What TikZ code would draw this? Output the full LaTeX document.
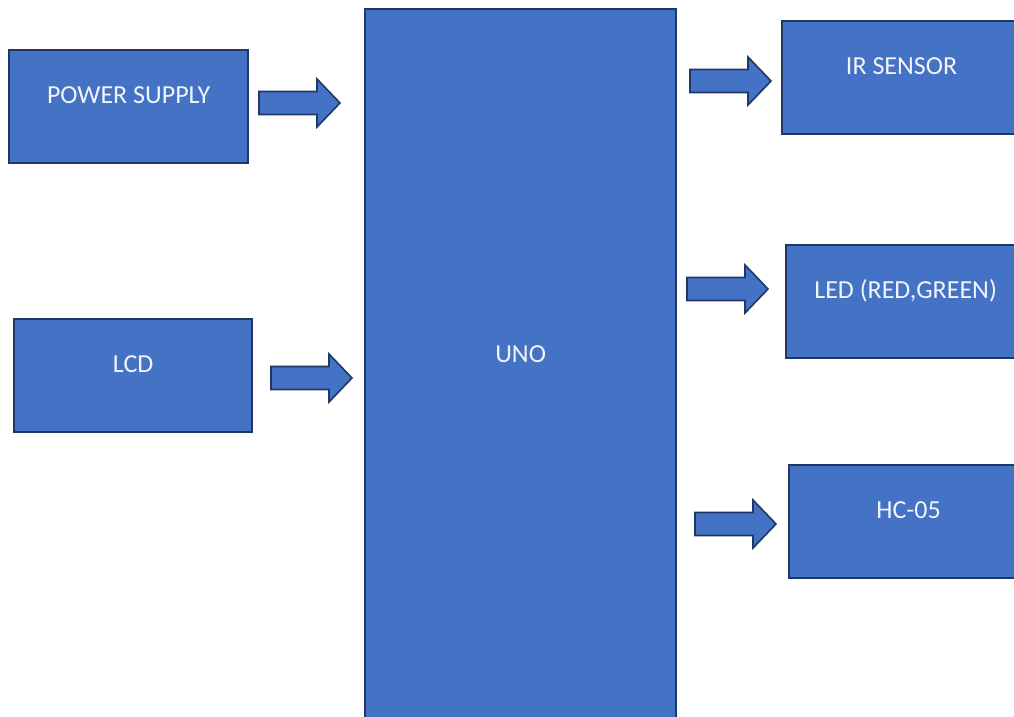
\documentclass[tikz,border=0pt]{standalone}
\usepackage{fontspec}
\setmainfont{Carlito}
\usetikzlibrary{positioning}

\definecolor{boxfill}{HTML}{4472C4}
\definecolor{boxedge}{HTML}{1F3864}
\definecolor{boxtxt}{HTML}{F2F4FA}

\tikzset{
  block/.style={draw=boxedge, fill=boxfill, line width=2.2pt, anchor=north west,
    minimum width=239pt, minimum height=113pt, inner sep=0pt},
  blocktext/.style={text=boxtxt, font=\fontsize{26}{30}\selectfont, yshift=11pt},
  fatarrow/.pic={
    \draw[draw=boxedge, fill=boxfill, line width=1.6pt, line join=miter]
      (0,-11.5) -- (58,-11.5) -- (58,-24) -- (81,0) -- (58,24) -- (58,11.5)
      -- (0,11.5) -- cycle;
  }
}

\begin{document}
\begin{tikzpicture}[x=1pt, y=-1pt]

  \useasboundingbox (0,0) rectangle (1014,717);
  \fill[white] (0,0) rectangle (1014,717);
  \clip (0,0) rectangle (1014,717);

  % inputs
  \node[block, label={[blocktext]center:POWER SUPPLY}] (power) at (8,49) {};
  \node[block, minimum width=238pt, label={[blocktext]center:LCD}] (lcd) at (13,318) {};

  % controller
  \node[block, minimum width=311pt, minimum height=712pt,
        label={[blocktext]center:UNO}] (uno) at (364,8) {};

  % outputs
  \node[block, label={[blocktext]center:IR SENSOR}] (ir) at (781,20) {};
  \node[block, label={[blocktext]center:LED (RED,GREEN)}] (led) at (785,244) {};
  \node[block, label={[blocktext]center:HC-05}] (hc) at (788,464) {};

  % block arrows
  \pic (toUnoA) at (259,103) {fatarrow};
  \pic (toUnoB) at (271,378) {fatarrow};
  \pic (toIr)   at (690,81)  {fatarrow};
  \pic (toLed)  at (687,289) {fatarrow};
  \pic (toHc)   at (695,524) {fatarrow};

\end{tikzpicture}
\end{document}
